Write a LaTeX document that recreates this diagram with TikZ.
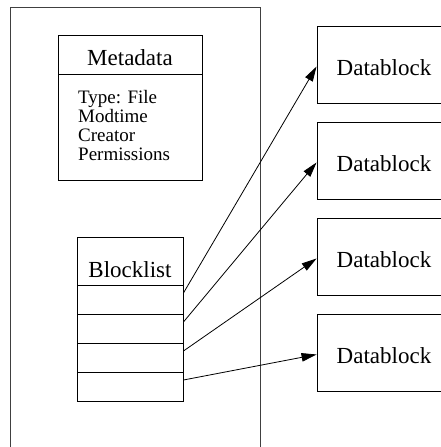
\documentclass[tikz,border=0pt]{standalone}
\usepackage{fontspec}
\setmainfont{Liberation Serif}
\usetikzlibrary{arrows.meta}
\begin{document}
\begin{tikzpicture}[x=1pt,y=1pt,
  boxn/.style={draw=black,line width=0.9pt,inner sep=0pt,minimum width=#1},
  bigtxt/.style={inner sep=0pt,anchor=base,font=\fontsize{23}{27}\selectfont},
  smalltxt/.style={inner sep=0pt,anchor=base west,font=\fontsize{19}{19}\selectfont},
  ptr/.style={line width=0.8pt,-{Triangle[length=15pt,width=8.5pt]}}]
\useasboundingbox (0,0) rectangle (441,-447);
\clip (0,0) rectangle (441,-447);
\fill[white] (0,0) rectangle (441,-447);
% outer container
\draw[line width=1pt,black!75] (10,-480) -- (10,-7) -- (260,-7) -- (260,-480);
% metadata
\node[boxn=144pt,minimum height=39pt] (mh) at (130,-54.5) {};
\node[boxn=144pt,minimum height=106pt] (mb) at (130,-127) {};
\node[bigtxt] (mt) at (130,-65) {Metadata};
\node[smalltxt] (l1) at (78,-103) {Type: File};
\node[smalltxt] (l2) at (78,-122) {Modtime};
\node[smalltxt] (l3) at (78,-141) {Creator};
\node[smalltxt] (l4) at (78,-160) {Permissions};
% blocklist
\node[boxn=106pt,minimum height=48pt] (bh) at (130,-261) {};
\node[bigtxt] (bt) at (130,-277) {Blocklist};
\node[boxn=106pt,minimum height=29pt] (c1) at (130,-299.5) {};
\node[boxn=106pt,minimum height=29pt] (c2) at (130,-328.5) {};
\node[boxn=106pt,minimum height=29pt] (c3) at (130,-357.5) {};
\node[boxn=106pt,minimum height=29pt] (c4) at (130,-386.5) {};
% datablocks
\node[boxn=134pt,minimum height=77pt] (d1) at (384,-64.5) {};
\node[boxn=134pt,minimum height=77pt] (d2) at (384,-160.5) {};
\node[boxn=134pt,minimum height=77pt] (d3) at (384,-256.5) {};
\node[boxn=134pt,minimum height=77pt] (d4) at (384,-352.5) {};
\node[bigtxt] (t1) at (384,-75) {Datablock};
\node[bigtxt] (t2) at (384,-171) {Datablock};
\node[bigtxt] (t3) at (384,-267) {Datablock};
\node[bigtxt] (t4) at (384,-363) {Datablock};
% pointers
\draw[ptr] ([yshift=6.5pt]c1.east) -- ([yshift=-2pt]d1.west);
\draw[ptr] ([yshift=6.5pt]c2.east) -- ([yshift=-2pt]d2.west);
\draw[ptr] ([yshift=6.5pt]c3.east) -- ([yshift=-2pt]d3.west);
\draw[ptr] ([yshift=6.5pt]c4.east) -- ([yshift=-2pt]d4.west);
\end{tikzpicture}
\end{document}
